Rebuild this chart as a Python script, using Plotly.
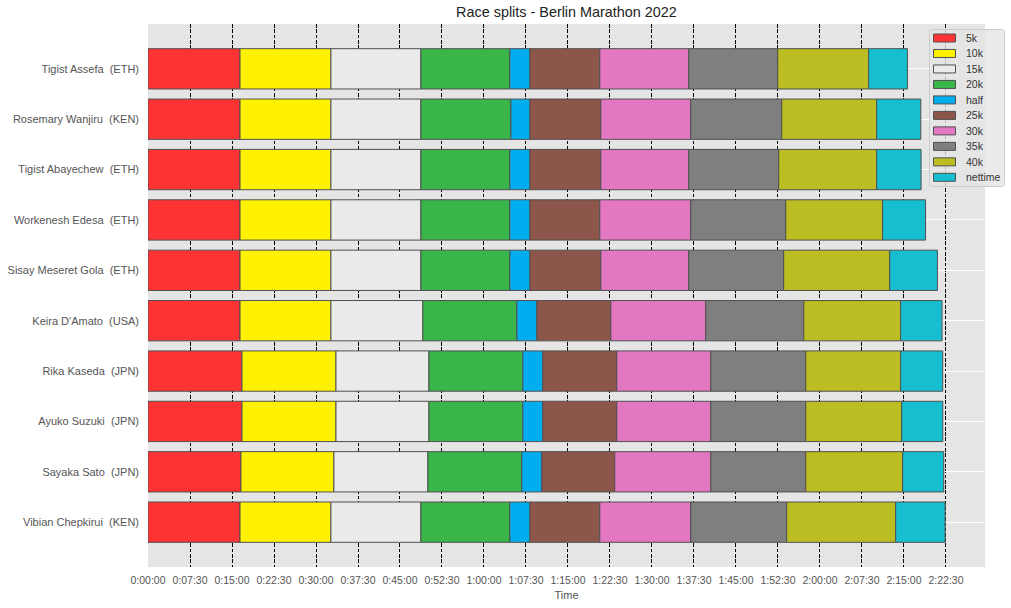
import plotly.graph_objects as go

athletes = ["Tigist Assefa  (ETH)", "Rosemary Wanjiru  (KEN)", "Tigist Abayechew  (ETH)",
            "Workenesh Edesa  (ETH)", "Sisay Meseret Gola  (ETH)", "Keira D'Amato  (USA)",
            "Rika Kaseda  (JPN)", "Ayuko Suzuki  (JPN)", "Sayaka Sato  (JPN)",
            "Vibian Chepkirui  (KEN)"]

# cumulative split times per checkpoint (same athlete order)
split_5k = ["0:16:26", "0:16:26", "0:16:26", "0:16:26", "0:16:26", "0:16:26", "0:16:47", "0:16:47", "0:16:36", "0:16:26"]
split_10k = ["0:32:40", "0:32:40", "0:32:40", "0:32:40", "0:32:40", "0:32:40", "0:33:34", "0:33:34", "0:33:12", "0:32:40"]
split_15k = ["0:48:44", "0:48:44", "0:48:44", "0:48:44", "0:48:44", "0:49:05", "0:50:10", "0:50:10", "0:49:59", "0:48:44"]
split_20k = ["1:04:37", "1:04:48", "1:04:37", "1:04:37", "1:04:37", "1:05:52", "1:06:56", "1:06:56", "1:06:45", "1:04:37"]
split_half = ["1:08:12", "1:08:12", "1:08:12", "1:08:12", "1:08:12", "1:09:26", "1:10:30", "1:10:30", "1:10:20", "1:08:12"]
split_25k = ["1:20:41", "1:20:52", "1:20:52", "1:20:41", "1:20:52", "1:22:39", "1:23:43", "1:23:43", "1:23:21", "1:20:41"]
split_30k = ["1:36:34", "1:36:55", "1:36:34", "1:36:55", "1:36:34", "1:39:36", "1:40:30", "1:40:30", "1:40:30", "1:36:55"]
split_35k = ["1:52:27", "1:53:10", "1:52:38", "1:53:53", "1:53:31", "1:57:06", "1:57:27", "1:57:27", "1:57:27", "1:54:03"]
split_40k = ["2:08:41", "2:10:07", "2:10:07", "2:11:11", "2:12:27", "2:14:24", "2:14:24", "2:14:35", "2:14:46", "2:13:31"]
split_net = ["2:15:37", "2:18:00", "2:18:03", "2:18:51", "2:20:58", "2:21:48", "2:21:55", "2:21:56", "2:22:06", "2:22:21"]

segment_names = ["5k", "10k", "15k", "20k", "half", "25k", "30k", "35k", "40k", "nettime"]
segment_colors = ["#FF3333", "#FFF200", "#EAEAEA", "#3AB54A", "#00AEEF",
                  "#8C564B", "#E377C2", "#7F7F7F", "#BCBD22", "#17BECF"]
tick_step_seconds = 450
tick_max_seconds = 8550


def to_sec(s):
    h, m, sec = s.split(":")
    return int(h) * 3600 + int(m) * 60 + int(sec)


def fmt(t):
    return f"{t // 3600}:{(t % 3600) // 60:02d}:{t % 60:02d}"


cumulative = [split_5k, split_10k, split_15k, split_20k, split_half,
              split_25k, split_30k, split_35k, split_40k, split_net]
cum_sec = [[to_sec(v) for v in col] for col in cumulative]

labels = [a.replace("  ", " \u00a0") for a in athletes]

W, H = 1011, 608
ML, MR, MT, MB = 148, 26, 24, 41
PW, PH = W - ML - MR, H - MT - MB


def px_x(px):
    return (px - ML) / PW


def px_y(py):
    return (H - MB - py) / PH


def rounded_box(x0, y0, x1, y1, r):
    pts = [
        f"M {px_x(x0 + r)},{px_y(y0)}",
        f"L {px_x(x1 - r)},{px_y(y0)}",
        f"Q {px_x(x1)},{px_y(y0)} {px_x(x1)},{px_y(y0 + r)}",
        f"L {px_x(x1)},{px_y(y1 - r)}",
        f"Q {px_x(x1)},{px_y(y1)} {px_x(x1 - r)},{px_y(y1)}",
        f"L {px_x(x0 + r)},{px_y(y1)}",
        f"Q {px_x(x0)},{px_y(y1)} {px_x(x0)},{px_y(y1 - r)}",
        f"L {px_x(x0)},{px_y(y0 + r)}",
        f"Q {px_x(x0)},{px_y(y0)} {px_x(x0 + r)},{px_y(y0)}",
        "Z",
    ]
    return " ".join(pts)


fig = go.Figure()
prev = [0] * len(athletes)
for name, color, col in zip(segment_names, segment_colors, cum_sec):
    seg = [c - p for c, p in zip(col, prev)]
    fig.add_trace(go.Bar(
        y=labels, x=seg, base=prev, name=name, orientation="h", width=0.8,
        marker=dict(color=color, line=dict(color="#505050", width=1)),
        showlegend=False,
    ))
    prev = col

max_total = max(cum_sec[-1])
tickvals = list(range(0, tick_max_seconds + 1, tick_step_seconds))
ticktext = [fmt(t) for t in tickvals]

font_family = "Liberation Sans, Arial, sans-serif"

# legend drawn as paper-positioned shapes + text
shapes = [dict(type="path", xref="paper", yref="paper", layer="above",
               path=rounded_box(929.5, 29.5, 1004.5, 186.5, 3),
               fillcolor="rgba(229,229,229,0.8)", line=dict(color="#CCCCCC", width=1))]
annotations = []
for i, (name, color) in enumerate(zip(segment_names, segment_colors)):
    cy = 38 + i * 15.48
    shapes.append(dict(type="rect", xref="paper", yref="paper", layer="above",
                       x0=px_x(933.5), x1=px_x(955.5), y0=px_y(cy + 4), y1=px_y(cy - 4),
                       fillcolor=color, line=dict(color="#505050", width=1)))
    annotations.append(dict(text=name, xref="paper", yref="paper", x=px_x(964), y=px_y(cy),
                            xanchor="left", yanchor="middle", showarrow=False,
                            font=dict(size=10.5, color="#333333", family=font_family)))

fig.update_layout(
    width=W, height=H,
    barmode="overlay",
    margin=dict(l=ML, r=MR, t=MT, b=MB, autoexpand=False),
    paper_bgcolor="white", plot_bgcolor="#E5E5E5",
    font=dict(family=font_family, size=10, color="#555555"),
    title=dict(text="Race splits - Berlin Marathon 2022", x=0.5, xref="paper",
               y=1 - 12 / 608, yanchor="middle", yref="container",
               font=dict(size=14.4, color="#222222", family=font_family)),
    xaxis=dict(range=[0, max_total * 1.05], tickvals=tickvals, ticktext=ticktext,
               showgrid=True, gridcolor="black", gridwidth=1, griddash="3.7px,1.6px",
               zeroline=False, showline=False, ticks="", ticklabelstandoff=5,
               title=dict(text="Time", font=dict(size=11, color="#555555"), standoff=6),
               tickfont=dict(size=10.5, color="#555555")),
    yaxis=dict(type="category", categoryorder="array", categoryarray=labels[::-1],
               range=[-0.89, 9.89], showgrid=True, gridcolor="white", gridwidth=1,
               zeroline=False, showline=False, ticks="", ticklabelstandoff=8,
               tickfont=dict(size=11, color="#555555")),
    shapes=shapes,
    annotations=annotations,
    showlegend=False,
)

fig.write_html("out.html")
